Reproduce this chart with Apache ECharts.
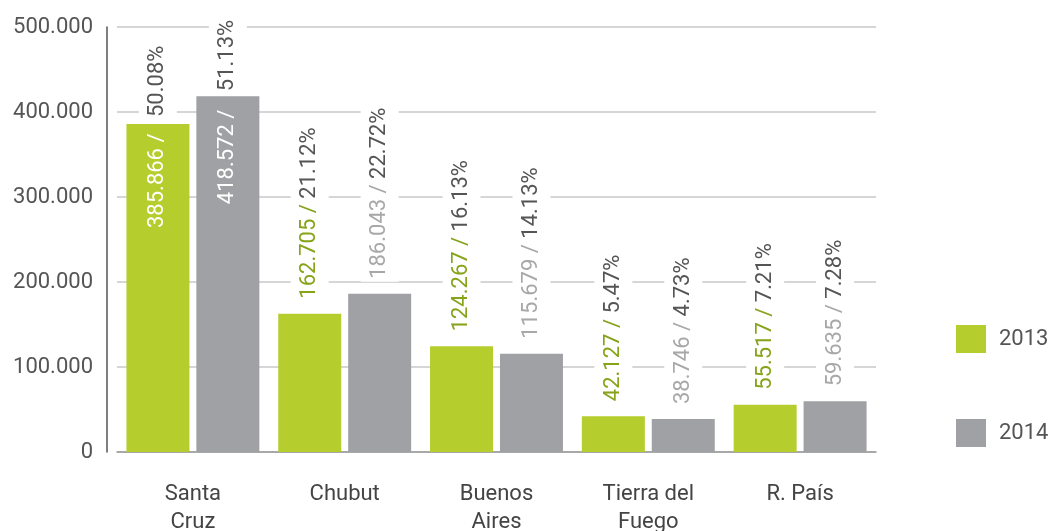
<!DOCTYPE html>
<html>
<head>
<meta charset="utf-8">
<script src="https://cdn.jsdelivr.net/npm/echarts@6/dist/echarts.min.js"></script>
<style>
  html, body { margin: 0; padding: 0; background: #fff; }
  #chart { width: 1052px; height: 531px; }
</style>
</head>
<body>
<div id="chart"></div>
<script>
const categories = ['Santa\nCruz', 'Chubut', 'Buenos\nAires', 'Tierra del\nFuego', 'R. País']
const years = ['2013', '2014']
const values2013 = [385866, 162705, 124267, 42127, 55517]
const values2014 = [418572, 186043, 115679, 38746, 59635]
const share2013 = ['50.08%', '21.12%', '16.13%', '5.47%', '7.21%']
const share2014 = ['51.13%', '22.72%', '14.13%', '4.73%', '7.28%']

const GREEN = '#b6cd2e'
const GRAY = '#a0a1a4'
const FONT = 'Roboto'
const FS = 22

// 385866 -> "385.866"
const fmt = n => String(n).replace(/\B(?=(\d{3})+(?!\d))/g, '.')

const makeData = (values, insideOffset, numWidth) =>
  values.map((v, i) => {
    if (i !== 0) return v
    // the tallest group has its label pushed down into the bar
    return {
      value: v,
      label: {
        position: ['50%', insideOffset],
        backgroundColor: 'transparent',
        padding: 0,
        rich: {
          num: { color: '#fff', width: numWidth },
          pct: { color: '#555', backgroundColor: '#fff', padding: [8, 3, 8, 0] }
        }
      }
    }
  })

const makeLabel = (shares, numColor) => ({
  show: true,
  position: 'top',
  distance: 12,
  rotate: 90,
  align: 'left',
  verticalAlign: 'middle',
  backgroundColor: '#fff',
  padding: [8, 3],
  fontFamily: FONT,
  fontSize: FS,
  formatter: p => `{num|${fmt(p.value)} / }{pct|${shares[p.dataIndex]}}`,
  rich: {
    num: { color: numColor, fontFamily: FONT, fontSize: FS },
    pct: { color: '#555', fontFamily: FONT, fontSize: FS }
  }
})

const chart = echarts.init(document.getElementById('chart'))
chart.setOption({
  animation: false,
  textStyle: { fontFamily: FONT },
  grid: { left: 117, right: 176, top: 27, bottom: 79, outerBoundsMode: 'none' },
  legend: {
    orient: 'vertical',
    left: 956,
    top: 325,
    padding: 0,
    itemWidth: 30,
    itemHeight: 28,
    itemGap: 66,
    icon: 'rect',
    textStyle: { fontFamily: FONT, fontSize: FS, color: '#555', padding: [0, 0, 0, 8] },
    data: years
  },
  xAxis: {
    type: 'category',
    data: categories,
    axisLine: { lineStyle: { color: '#999', width: 1.5 } },
    axisTick: { inside: true, length: 6, lineStyle: { color: '#333' } },
    axisLabel: { margin: 28, fontFamily: FONT, fontSize: FS, color: '#444', lineHeight: 28 }
  },
  yAxis: {
    type: 'value',
    min: 0,
    max: 500000,
    interval: 100000,
    offset: 10,
    axisLine: { show: true, lineStyle: { color: '#555', width: 1.5 } },
    axisTick: { show: false },
    axisLabel: { margin: 14, fontFamily: FONT, fontSize: FS, color: '#555', formatter: v => fmt(v) },
    splitLine: { lineStyle: { color: '#c9c9c9', width: 1.5 } }
  },
  series: [
    {
      name: '2013',
      type: 'bar',
      barWidth: 63,
      barGap: '11%',
      itemStyle: { color: GREEN },
      label: makeLabel(share2013, '#86a31a'),
      data: makeData(values2013, 104, 111)
    },
    {
      name: '2014',
      type: 'bar',
      barWidth: 63,
      barGap: '11%',
      itemStyle: { color: GRAY },
      label: makeLabel(share2014, '#a8a8a8'),
      data: makeData(values2014, 108, 113)
    }
  ]
})
</script>
</body>
</html>
